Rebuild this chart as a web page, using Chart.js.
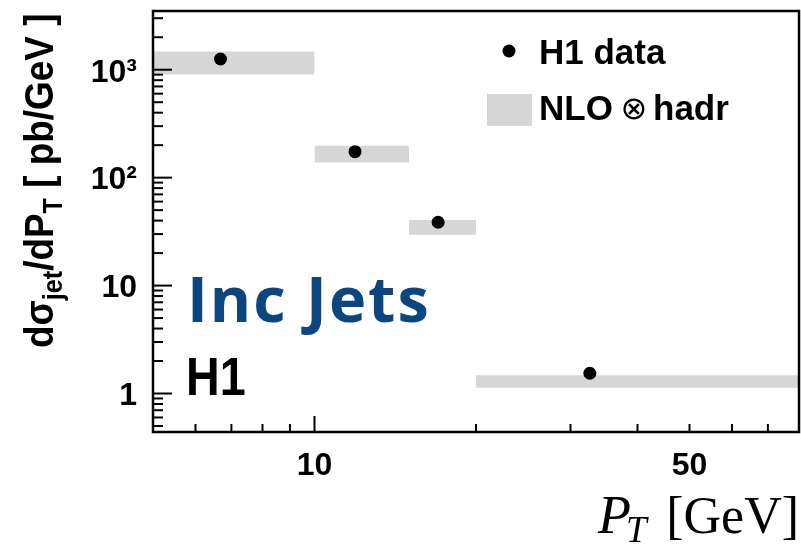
<!DOCTYPE html>
<html>
<head>
<meta charset="utf-8">
<script src="https://cdn.jsdelivr.net/npm/chart.js@4"></script>
<style>
  body { margin: 0; background: #fff; }
  canvas { display: block; }
</style>
</head>
<body>
<canvas id="xsec" width="801" height="545"></canvas>
<script>
// inclusive jet cross section vs jet PT
const binLow = [5, 10, 15, 20];
const binHigh = [10, 15, 20, 80];
const ptCenter = [6.68, 11.9, 17.0, 32.6];
const h1Data = [1257, 174, 38.6, 1.54];
const nloUp = [1479, 197, 40.6, 1.48];
const nloDown = [904, 138, 29.6, 1.13];

const xTicks = [5, 6, 7, 8, 9, 10, 20, 30, 40, 50, 60, 70, 80];
const xLabels = { 10: "10", 50: "50" };
const yTicks = [0.5, 0.6, 0.7, 0.8, 0.9, 1, 2, 3, 4, 5, 6, 7, 8, 9,
  10, 20, 30, 40, 50, 60, 70, 80, 90, 100, 200, 300, 400, 500, 600, 700, 800, 900,
  1000, 2000, 3000];
const yLabels = { 1: "1", 10: "10", 100: "10²", 1000: "10³" };

const SANS = "'Liberation Sans', Arial, sans-serif";
const BAND = "#d6d6d6";

// one filled strip per PT bin, from the lower to the upper NLO edge
const bands = binLow.map((lo, i) => ({
  type: "line",
  label: "NLO band " + i,
  data: [{ x: lo, y: nloUp[i] }, { x: binHigh[i], y: nloUp[i] }],
  fill: { value: nloDown[i] },
  backgroundColor: BAND,
  borderWidth: 0,
  pointRadius: 0,
  order: 2,
}));

const points = {
  type: "line",
  label: "H1 data",
  data: ptCenter.map((x, i) => ({ x: x, y: h1Data[i] })),
  showLine: false,
  pointRadius: 6.5,
  pointBackgroundColor: "#000",
  pointBorderWidth: 0,
  order: 1,
};

function condensed(ctx, txt, x, y, sx) {
  ctx.save();
  ctx.translate(x, y);
  ctx.scale(sx, 1);
  ctx.fillText(txt, 0, 0);
  ctx.restore();
}

// no extra room around the axes, the frame sits at fixed edges
function noPad(s) {
  s.paddingLeft = 0;
  s.paddingRight = 0;
  s.paddingTop = 0;
  s.paddingBottom = 0;
}

const framePlugin = {
  id: "frame",
  afterDatasetsDraw(chart) {
    const { ctx, chartArea: a, scales } = chart;
    ctx.save();
    ctx.strokeStyle = "#000";
    ctx.lineWidth = 2;
    // inward tick marks on bottom and left
    xTicks.forEach((v) => {
      const px = scales.x.getPixelForValue(v);
      const len = v === 10 ? 16 : 8;
      ctx.beginPath();
      ctx.moveTo(px, a.bottom);
      ctx.lineTo(px, a.bottom - len);
      ctx.stroke();
    });
    yTicks.forEach((v) => {
      const py = scales.y.getPixelForValue(v);
      const len = yLabels[v] ? 19 : 10;
      ctx.beginPath();
      ctx.moveTo(a.left, py);
      ctx.lineTo(a.left + len, py);
      ctx.stroke();
    });
    ctx.lineWidth = 2.5;
    ctx.strokeRect(a.left, a.top, a.right - a.left, a.bottom - a.top);
    ctx.restore();
  },
  afterDraw(chart) {
    const ctx = chart.ctx;
    ctx.save();
    ctx.fillStyle = "#000";
    ctx.textBaseline = "alphabetic";
    ctx.textAlign = "left";

    // y title, rotated, with subscripts
    ctx.save();
    ctx.translate(53, 348);
    ctx.rotate(-Math.PI / 2);
    ctx.scale(0.9, 1);
    const parts = [
      ["dσ", false], ["jet", true], ["/dP", false], ["T", true], [" [ pb/GeV ]", false],
    ];
    let cx = 0;
    parts.forEach(([t, sub]) => {
      ctx.font = sub ? "bold 28px " + SANS : "bold 41px " + SANS;
      ctx.fillText(t, cx, sub ? 9 : 0);
      cx += ctx.measureText(t).width;
    });
    ctx.restore();

    // x title
    ctx.font = "italic 54px 'Liberation Serif', serif";
    ctx.fillText("P", 598, 533);
    const pw = ctx.measureText("P").width;
    ctx.font = "italic 37px 'Liberation Serif', serif";
    ctx.fillText("T", 598 + pw - 5, 542);
    ctx.font = "52px 'Liberation Serif', serif";
    ctx.textAlign = "right";
    ctx.fillText("[GeV]", 799, 533);
    ctx.textAlign = "left";

    // labels inside the frame
    ctx.fillStyle = "#0b4680";
    ctx.font = "bold 63px 'Open Sans', sans-serif";
    ctx.letterSpacing = "2px";
    ctx.fillText("Inc Jets", 187, 322);
    ctx.letterSpacing = "0px";
    ctx.fillStyle = "#000";
    ctx.font = "bold 53px " + SANS;
    condensed(ctx, "H1", 186, 395, 0.88);

    // legend
    ctx.beginPath();
    ctx.arc(509, 51, 6.5, 0, Math.PI * 2);
    ctx.fill();
    ctx.font = "bold 35px " + SANS;
    ctx.fillText("H1 data", 539, 64);
    ctx.fillStyle = BAND;
    ctx.fillRect(487, 94, 45, 32);
    ctx.fillStyle = "#000";
    ctx.fillText("NLO", 539, 120);
    ctx.fillText("hadr", 653, 120);
    ctx.font = "32px 'DejaVu Sans', sans-serif";
    ctx.textAlign = "center";
    ctx.fillText("⊗", 634, 119);
    ctx.restore();
  },
};

new Chart(document.getElementById("xsec"), {
  type: "line",
  data: { datasets: [points, ...bands] },
  options: {
    responsive: false,
    animation: false,
    layout: { autoPadding: false, padding: { top: 11, right: 2, left: 0, bottom: 0 } },
    plugins: { legend: { display: false }, tooltip: { enabled: false } },
    scales: {
      x: {
        type: "logarithmic",
        min: 5,
        max: 80,
        grid: { display: false },
        border: { display: false },
        afterBuildTicks: (s) => { s.ticks = xTicks.map((v) => ({ value: v })); },
        afterFit: (s) => { s.height = 113; noPad(s); },
        ticks: {
          autoSkip: false,
          maxRotation: 0,
          padding: 7,
          color: "#000",
          font: { family: SANS, size: 32, weight: "bold" },
          callback: (v) => xLabels[v] || "",
        },
      },
      y: {
        type: "logarithmic",
        min: 0.44,
        max: 3500,
        grid: { display: false },
        border: { display: false },
        afterBuildTicks: (s) => { s.ticks = yTicks.map((v) => ({ value: v })); },
        afterFit: (s) => { s.width = 153; noPad(s); },
        ticks: {
          autoSkip: false,
          padding: 8,
          labelOffset: 3,
          color: "#000",
          font: { family: SANS, size: 32, weight: "bold" },
          callback: (v) => yLabels[v] || "",
        },
      },
    },
  },
  plugins: [framePlugin],
});
</script>
</body>
</html>
